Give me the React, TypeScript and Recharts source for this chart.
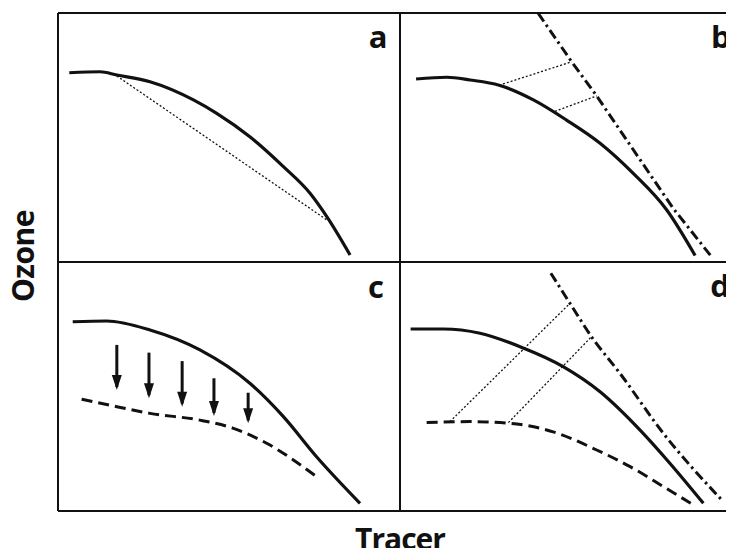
import { ComposedChart, Line, Scatter, XAxis, YAxis, ReferenceLine } from "recharts";

// Schematic: each panel runs tracer 0-10 across and ozone 0-10 up.
// Panels: a = top-left, b = top-right, c = bottom-left, d = bottom-right.
type Pair = [number, number];

const aCurve: Pair[] = [
  [0.33, 7.6], [1.23, 7.64], [1.72, 7.51], [2.69, 7.24], [3.96, 6.51], [4.64, 5.97],
  [5.61, 5.03], [6.59, 3.83], [7.37, 2.76], [7.86, 1.82], [8.54, 0.28],
];
const aChord: Pair[] = [[1.72, 7.47], [7.86, 1.69]];

const bCurve: Pair[] = [
  [0.47, 7.35], [1.37, 7.42], [2.05, 7.31], [2.9, 7.1], [3.9, 6.51], [4.87, 5.7],
  [5.85, 4.77], [6.82, 3.56], [7.8, 2.09], [8.63, 0.26],
];
const bMixing: Pair[] = [[4.04, 9.99], [5.02, 8.04], [5.75, 6.67], [7.99, 2.15], [9.11, 0.21]];
const bLinks: Pair[][] = [
  [[2.9, 7.1], [5.02, 8.04]],
  [[4.53, 6.05], [5.75, 6.67]],
];

const cCurve: Pair[] = [
  [0.43, 7.6], [1.42, 7.63], [2.69, 7.27], [4.15, 6.47], [5.61, 5.13], [6.59, 3.79],
  [7.56, 2.18], [8.83, 0.31],
];
const cLoss: Pair[] = [
  [0.69, 4.49], [1.72, 4.19], [2.69, 3.92], [4.15, 3.65], [5.13, 3.32], [6.1, 2.72], [7.56, 1.38],
];
const cArrowX = [1.72, 2.66, 3.63, 4.56, 5.56];
const cArrowTop = [6.67, 6.36, 6.02, 5.33, 4.75];
const cArrowTip = [4.98, 4.65, 4.31, 3.94, 3.64];

const dCurve: Pair[] = [
  [0.31, 7.31], [1.27, 7.31], [2.34, 7.14], [3.51, 6.6], [4.77, 5.8],
  [5.85, 4.79], [7.02, 3.25], [7.89, 1.92], [8.87, 0.31],
];
const dMixing: Pair[] = [[4.41, 9.55], [4.97, 8.34], [5.6, 7.0], [6.43, 5.53], [7.7, 3.12], [9.41, 0.44]];
const dLoss: Pair[] = [
  [0.78, 3.55], [2.05, 3.59], [3.22, 3.52], [4.48, 3.18], [5.75, 2.45], [6.73, 1.78],
  [7.7, 0.98], [8.5, 0.31],
];
const dLinks: Pair[][] = [
  [[1.46, 3.59], [4.97, 8.34]],
  [[3.17, 3.55], [5.6, 7.0]],
];

const panelNames = ["a", "b", "c", "d"];
const panelLabelAt: Pair[] = [[9.36, 8.6], [9.38, 8.6], [9.3, 8.55], [9.36, 8.59]];

const INK = "#111";
const FONT = "'Open Sans', sans-serif";

// col 0 = left, col 1 = right; row 1 = top, row 0 = bottom
const place = (pts: Pair[], col: number, row: number) =>
  pts.map(([x, y]) => ({ x: x + col * 10, y: y + row * 10 }));

const PANEL_POS: [number, number][] = [[0, 1], [1, 1], [0, 0], [1, 0]];

const labelData = panelNames.map((name, i) => {
  const [col, row] = PANEL_POS[i];
  const [x, y] = panelLabelAt[i];
  return { x: x + col * 10, y: y + row * 10, name };
});

const arrows = cArrowX.map((x, i) => place([[x, cArrowTop[i]], [x, cArrowTip[i]]], 0, 0));

const solid = { stroke: INK, strokeWidth: 3.2 };
const dashed = { stroke: INK, strokeWidth: 3, strokeDasharray: "11 6" };
const dashDot = { stroke: INK, strokeWidth: 3, strokeDasharray: "10 4 2.5 4" };
const dotted = { stroke: INK, strokeWidth: 1.3, strokeDasharray: "2 2" };

const series: { key: string; data: { x: number; y: number }[]; style: any; type: any }[] = [
  { key: "aCurve", data: place(aCurve, 0, 1), style: solid, type: "monotone" },
  { key: "aChord", data: place(aChord, 0, 1), style: dotted, type: "linear" },
  { key: "bCurve", data: place(bCurve, 1, 1), style: solid, type: "monotone" },
  { key: "bMixing", data: place(bMixing, 1, 1), style: dashDot, type: "linear" },
  ...bLinks.map((l, i) => ({ key: "bLink" + i, data: place(l, 1, 1), style: dotted, type: "linear" })),
  { key: "cCurve", data: place(cCurve, 0, 0), style: solid, type: "monotone" },
  { key: "cLoss", data: place(cLoss, 0, 0), style: dashed, type: "monotone" },
  { key: "dCurve", data: place(dCurve, 1, 0), style: solid, type: "monotone" },
  { key: "dMixing", data: place(dMixing, 1, 0), style: dashDot, type: "monotone" },
  { key: "dLoss", data: place(dLoss, 1, 0), style: dashed, type: "monotone" },
  ...dLinks.map((l, i) => ({ key: "dLink" + i, data: place(l, 1, 0), style: dotted, type: "linear" })),
];

const arrowHead = (p: any) =>
  p.index === 1 ? (
    <polygon
      key={"h" + p.index}
      points={`${p.cx - 5},${p.cy - 12} ${p.cx + 5},${p.cy - 12} ${p.cx},${p.cy + 3}`}
      fill={INK}
    />
  ) : (
    <g key={"h" + p.index} />
  );

const panelLetter = (p: any) => (
  <text x={p.cx} y={p.cy} textAnchor="middle" fill={INK} fontFamily={FONT} fontWeight={700} fontSize={31}>
    {p.payload.name}
  </text>
);

const TracerLabel = ({ viewBox }: any) => (
  <text
    x={viewBox.x + viewBox.width / 2}
    y={viewBox.y + 39}
    textAnchor="middle"
    fill={INK}
    fontFamily={FONT}
    fontWeight={700}
    fontSize={30}
    letterSpacing={-1}
  >
    Tracer
  </text>
);

const OzoneLabel = ({ viewBox }: any) => {
  const cx = viewBox.x + viewBox.width * 0.38;
  const cy = viewBox.y + viewBox.height / 2 - 6;
  return (
    <text
      x={cx}
      y={cy}
      transform={`rotate(-90 ${cx} ${cy})`}
      textAnchor="middle"
      dominantBaseline="central"
      fill={INK}
      fontFamily={FONT}
      fontWeight={700}
      fontSize={30}
      letterSpacing={-0.5}
    >
      Ozone
    </text>
  );
};

export default function App() {
  return (
    <div style={{ margin: -8, width: 734, height: 556, overflow: "hidden", background: "#fff" }}>
      <ComposedChart width={742} height={556} margin={{ top: 13, right: 0, bottom: 0, left: 0 }}>
        <XAxis
          type="number"
          dataKey="x"
          domain={[0, 20]}
          allowDataOverflow
          axisLine={false}
          tickLine={false}
          tick={false}
          height={45}
          label={{ content: TracerLabel }}
        />
        <YAxis
          type="number"
          dataKey="y"
          domain={[0, 20]}
          allowDataOverflow
          axisLine={false}
          tickLine={false}
          tick={false}
          width={58}
          label={{ content: OzoneLabel }}
        />
        <ReferenceLine x={0} stroke={INK} strokeWidth={2} />
        <ReferenceLine x={10} stroke={INK} strokeWidth={2} />
        <ReferenceLine y={0} stroke={INK} strokeWidth={2} />
        <ReferenceLine y={10} stroke={INK} strokeWidth={2} />
        <ReferenceLine y={20} stroke={INK} strokeWidth={2} />
        {series.map((s) => (
          <Line
            key={s.key}
            data={s.data}
            dataKey="y"
            type={s.type}
            {...s.style}
            dot={false}
            activeDot={false}
            legendType="none"
            isAnimationActive={false}
          />
        ))}
        {arrows.map((a, i) => (
          <Line
            key={"arrow" + i}
            data={a}
            dataKey="y"
            type="linear"
            stroke={INK}
            strokeWidth={3}
            dot={arrowHead}
            activeDot={false}
            legendType="none"
            isAnimationActive={false}
          />
        ))}
        <Scatter data={labelData} dataKey="y" shape={panelLetter} isAnimationActive={false} legendType="none" />
      </ComposedChart>
    </div>
  );
}
